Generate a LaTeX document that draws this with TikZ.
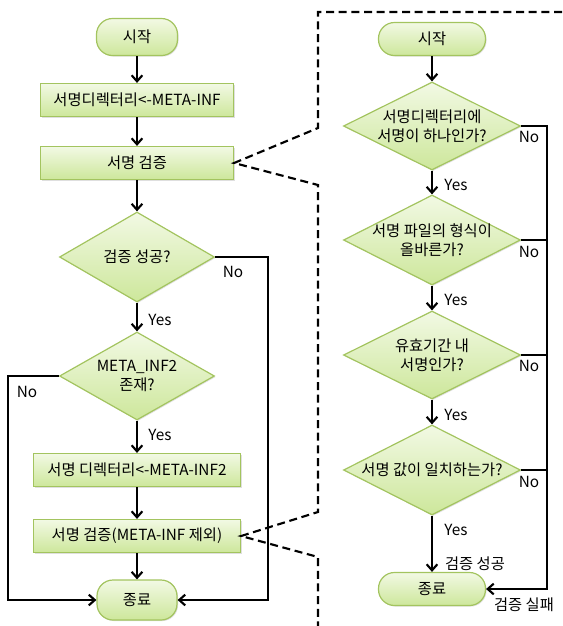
\documentclass[tikz,border=0pt]{standalone}
\usepackage{fontspec}
\setmainfont{Noto Sans CJK KR}
\usetikzlibrary{shapes.geometric}
\usetikzlibrary{shadows}
\usetikzlibrary{arrows.meta}

\definecolor{boxline}{RGB}{163,196,95}
\definecolor{boxtop}{RGB}{242,249,228}
\definecolor{boxbot}{RGB}{205,231,155}

\tikzset{
  flowbox/.style={rectangle, draw=boxline, line width=0.9pt, top color=boxtop, bottom color=boxbot,
    inner sep=0pt, font=\fontsize{11.5}{13}\selectfont,
    drop shadow={shadow xshift=0.8pt, shadow yshift=-0.8pt, opacity=0.25}},
  termbox/.style={flowbox, rounded corners=12pt},
  decbox/.style={flowbox, diamond, aspect=1.8},
  flowarr/.style={line width=1.6pt, -{Straight Barb[length=4.5pt,width=8pt,line width=1.6pt]}},
  flowline/.style={line width=1.6pt},
  sigframe/.style={line width=1.6pt, dash pattern=on 6pt off 3.5pt},
  flowlabel/.style={font=\fontsize{11.5}{13}\selectfont, inner sep=0pt},
  declabel/.style={font=\fontsize{11.5}{14.5}\selectfont, inner sep=0pt, align=center}
}

\begin{document}
\begin{tikzpicture}[x=0.75pt,y=0.75pt,yscale=-1,xscale=1]
\useasboundingbox (0,0) rectangle (562,626);

%Left flow: nodes
\node[termbox, minimum width=60.75pt, minimum height=27.75pt] (lstart) at (137,37) {시작};
\node[flowbox, minimum width=144.75pt, minimum height=24.75pt] (ldir) at (137,100) {서명디렉터리<-META-INF};
\node[flowbox, minimum width=144.75pt, minimum height=24.75pt] (lver) at (137,163) {서명 검증};
\node[decbox, minimum width=116.25pt, minimum height=67.5pt,
  label={[declabel]center:검증 성공?}] (lok) at (137,257) {};
\node[decbox, minimum width=116.25pt, minimum height=66pt,
  label={[declabel]center:META\_INF2\\존재?}] (linf) at (137,376) {};
\node[flowbox, minimum width=155.25pt, minimum height=24.75pt] (ldir2) at (137,470) {서명 디렉터리<-META-INF2};
\node[flowbox, minimum width=155.25pt, minimum height=24.75pt] (lver2) at (137,536) {서명 검증(META-INF 제외)};
\node[termbox, minimum width=60pt, minimum height=30pt] (lend) at (137,600) {종료};

%Right flow: nodes
\node[termbox, minimum width=80.25pt, minimum height=24.75pt] (rstart) at (432,39) {시작};
\node[decbox, minimum width=132.75pt, minimum height=66pt,
  label={[declabel]center:서명디렉터리에\\서명이 하나인가?}] (rone) at (432,126) {};
\node[decbox, minimum width=132.75pt, minimum height=67.5pt,
  label={[declabel]center:서명 파일의 형식이\\올바른가?}] (rform) at (432,240) {};
\node[decbox, minimum width=132.75pt, minimum height=66pt,
  label={[declabel]center:유효기간 내\\서명인가?}] (rdate) at (432,355) {};
\node[decbox, minimum width=132.75pt, minimum height=67.5pt,
  label={[declabel]center:서명 값이 일치하는가?}] (rhash) at (432,470) {};
\node[termbox, minimum width=80.25pt, minimum height=24.75pt] (rend) at (432,589) {종료};

%Corner points
\coordinate (lnoR) at (268,257);
\coordinate (lnoL) at (8,376);
\coordinate (rbus) at (547,126);
\coordinate (frTR) at (562,12);
\coordinate (frTL) at (318,12);
\coordinate (frA) at (318,128);
\coordinate (frB) at (318,185);
\coordinate (frC) at (318,512);
\coordinate (frD) at (318,557);
\coordinate (frE) at (318,626);

%Left flow: connectors
\draw[flowarr] (lstart) -- (ldir);
\draw[flowarr] (ldir) -- (lver);
\draw[flowarr] (lver) -- (lok);
\draw[flowarr] (lok) -- (linf);
\draw[flowarr] (linf) -- (ldir2);
\draw[flowarr] (ldir2) -- (lver2);
\draw[flowarr] (lver2) -- (lend);
\draw[flowarr] (lok.east) -- (lnoR) |- (lend.east);
\draw[flowarr] (linf.west) -- (lnoL) |- (lend.west);

%Right flow: connectors
\draw[flowarr] (rstart) -- (rone);
\draw[flowarr] (rone) -- (rform);
\draw[flowarr] (rform) -- (rdate);
\draw[flowarr] (rdate) -- (rhash);
\draw[flowarr] (rhash) -- (rend);
\draw[flowarr] (rone.east) -- (rbus) |- (rend.east);
\draw[flowline] (rform.east) -- (rform.east -| rbus);
\draw[flowline] (rdate.east) -- (rdate.east -| rbus);
\draw[flowline] (rhash.east) -- (rhash.east -| rbus);

%Dashed frame
\draw[sigframe] (frTR) -- (frTL) -- (frA) -- (lver.east) -- (frB) -- (frC) -- (lver2.east) -- (frD) -- (frE);

% Text Node
\node[flowlabel] (tno1) at (233,272) {No};
\node[flowlabel] (tyes1) at (160,320) {Yes};
\node[flowlabel] (tno2) at (27,392) {No};
\node[flowlabel] (tyes2) at (160,435) {Yes};
\node[flowlabel] (tno3) at (529,137) {No};
\node[flowlabel] (tno4) at (529,252) {No};
\node[flowlabel] (tno5) at (529,366) {No};
\node[flowlabel] (tno6) at (529,482) {No};
\node[flowlabel] (tyes3) at (456,185) {Yes};
\node[flowlabel] (tyes4) at (456,300) {Yes};
\node[flowlabel] (tyes5) at (456,415) {Yes};
\node[flowlabel] (tyes6) at (456,530) {Yes};
\node[flowlabel] (tpass) at (475,564) {검증 성공};
\node[flowlabel] (tfail) at (524,605) {검증 실패};

\end{tikzpicture}
\end{document}
